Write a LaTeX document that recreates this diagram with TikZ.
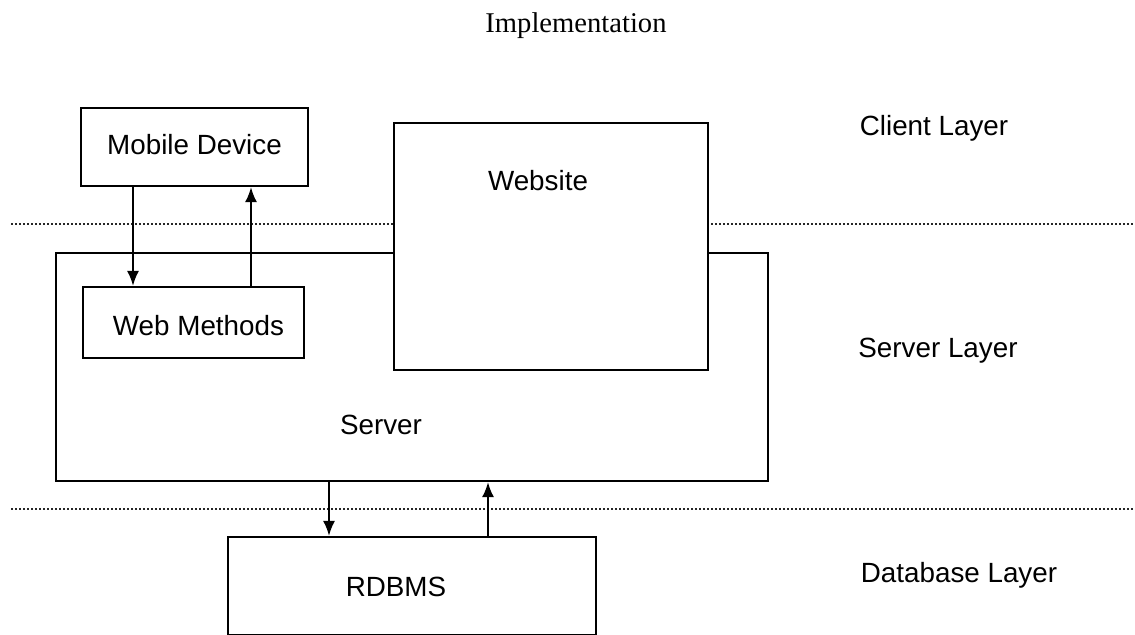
\documentclass[tikz,border=0pt]{standalone}
\usepackage{fontspec}
\setmainfont{Liberation Serif}
\newfontfamily\arialfont{Liberation Sans}
\usetikzlibrary{arrows.meta}

\tikzset{
  box/.style={draw,line width=1.1pt,fill=white,inner sep=0pt},
  txt/.style={font=\arialfont\fontsize{13.9}{16}\selectfont,inner sep=0pt,text height=10pt,text depth=0pt},
  layerline/.style={line width=1pt,dash pattern=on 1pt off 1pt,black!85},
  arr/.style={-{Latex[length=7.5pt,width=6pt]},line width=1pt}
}

\begin{document}
\begin{tikzpicture}[x=0.5pt,y=-0.5pt]
\clip (0,0) rectangle (1135,634);
\node[font=\fontsize{14.3}{17}\selectfont,inner sep=0pt] (title) at (576,26) {Implementation};
% layer separators
\draw[layerline] (11,224) -- (1135,224);
\draw[layerline] (11,509) -- (1135,509);
% boxes
\node[box,minimum width=356pt,minimum height=114pt] (server) at (412,367) {};
\node[box,minimum width=157pt,minimum height=123.5pt] (website) at (551,246.5) {};
\node[box,minimum width=113.5pt,minimum height=39pt,txt,text depth=3pt] (mobile) at (194.5,147) {Mobile Device};
\node[box,minimum width=110.5pt,minimum height=35.5pt,txt,text height=13pt] (webm) at (193.5,322.5) {\hspace{5pt}Web Methods};
\node[box,minimum width=184pt,minimum height=49pt] (rdbms) at (412,586) {};
% box texts
\node[txt] (websitetxt) at (538,180) {Website};
\node[txt] (servertxt) at (381,424) {Server};
\node[txt] (rdbmstxt) at (396,586) {RDBMS};
% layer names
\node[txt] (client) at (934,125) {Client Layer};
\node[txt] (serverlayer) at (938,347) {Server Layer};
\node[txt] (dblayer) at (959,572) {Database Layer};
% arrows
\draw[arr] (mobile.south -| 133,0) -- (webm.north -| 133,0);
\draw[arr] (webm.north -| 251,0) -- (mobile.south -| 251,0);
\draw[arr] (server.south -| 329,0) -- (rdbms.north -| 329,0);
\draw[arr] (rdbms.north -| 488,0) -- (server.south -| 488,0);
\end{tikzpicture}
\end{document}
